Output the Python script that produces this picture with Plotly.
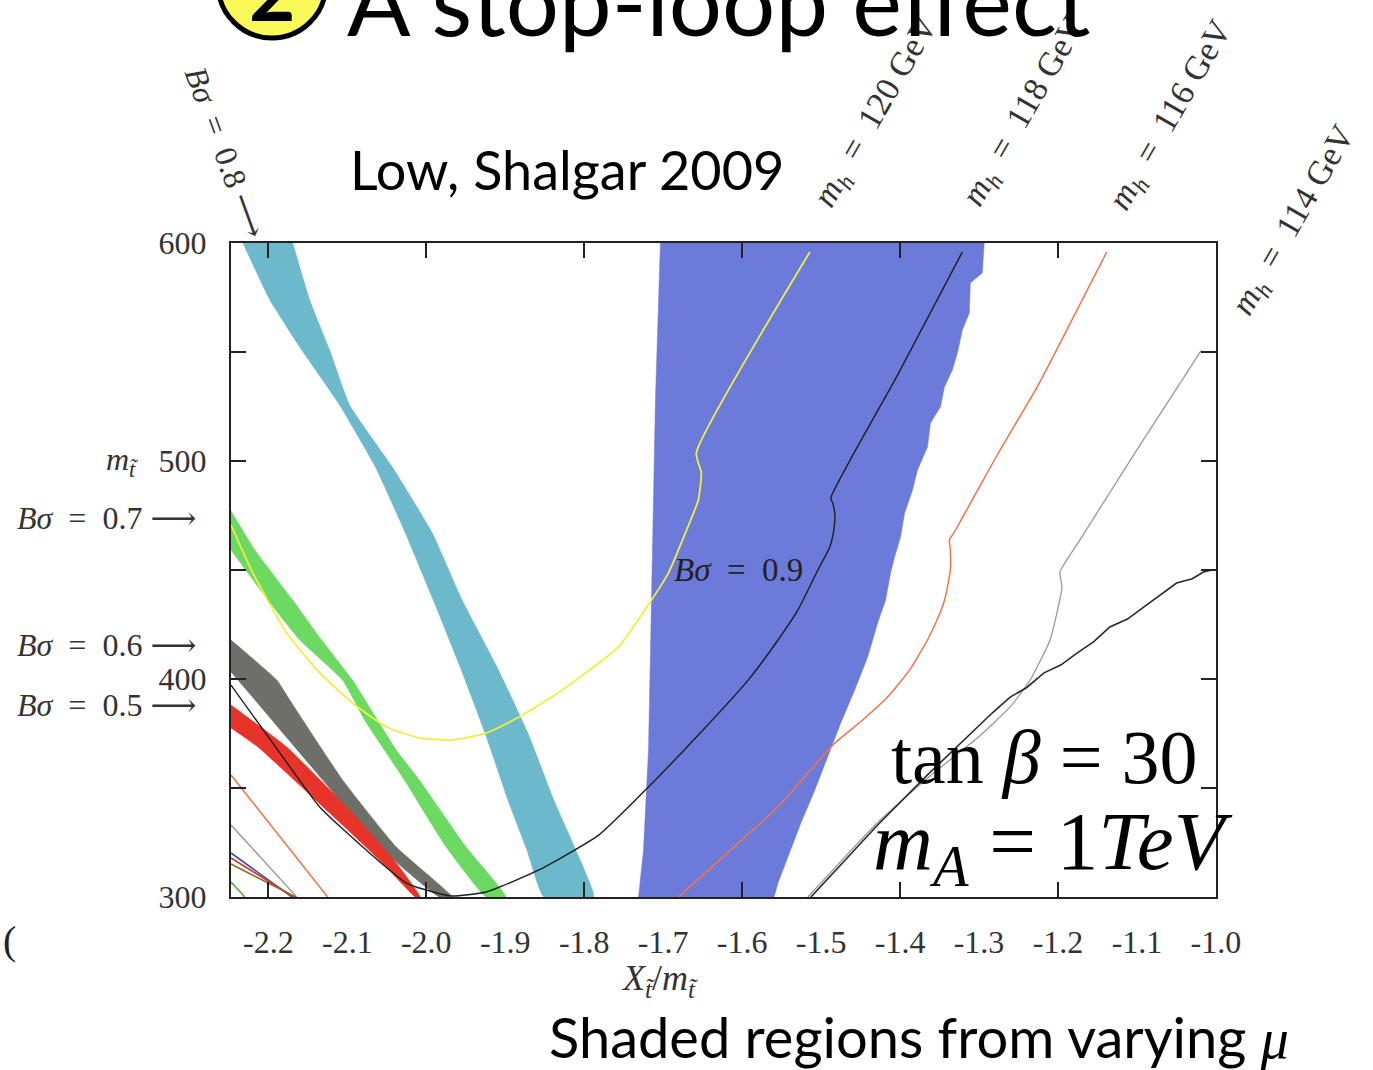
import plotly.graph_objects as go

# ---------------- axis ticks ----------------
x_label_vals = [-2.2, -2.1, -2.0, -1.9, -1.8, -1.7, -1.6, -1.5, -1.4, -1.3, -1.2, -1.1, -1.0]
x_labels = ["-2.2", "-2.1", "-2.0", "-1.9", "-1.8", "-1.7", "-1.6", "-1.5", "-1.4", "-1.3", "-1.2", "-1.1", "-1.0"]
x_tick_vals = [-2.2, -2.0, -1.8, -1.6, -1.4, -1.2, -1.0]
y_tick_vals = [300, 350, 400, 450, 500, 550, 600]
y_labels = ["300", "", "400", "", "500", "", "600"]

# ---------------- shaded bands (edges of each region) ----------------
# B sigma = 0.8 (cyan)
b08_left_x = [-2.2322, -2.1981, -2.1577, -2.1098, -2.0644, -2.0265, -1.9912, -1.9571, -1.9256, -1.8966, -1.8726, -1.8511]
b08_left_m = [600, 573.9, 550.9, 525.7, 497.2, 467.0, 436.2, 405.5, 375.2, 344.5, 321.6, 300]
b08_right_x = [-2.1691, -2.1477, -2.1224, -2.0971, -2.0429, -1.9924, -1.9546, -1.9104, -1.8713, -1.8385, -1.8107, -1.7880]
b08_right_m = [600, 573.9, 550.9, 525.7, 497.2, 467.0, 436.2, 405.5, 375.2, 344.5, 321.6, 300]

# B sigma = 0.9 (blue)
b09_left_x = [-1.7035, -1.7098, -1.7148, -1.7186, -1.7249, -1.7312]
b09_left_m = [600, 528.0, 436.2, 367.4, 321.6, 300]
b09_right_x = [-1.2934, -1.2959, -1.3110, -1.3123, -1.3211, -1.3274, -1.3338, -1.3438, -1.3489, -1.3615,
               -1.3653, -1.3779, -1.3842, -1.3943, -1.3994, -1.4069, -1.4120, -1.4183, -1.4284, -1.4410,
               -1.4574, -1.4751, -1.4915, -1.5079, -1.5256, -1.5420, -1.5546, -1.5596]
b09_right_m = [600, 586.2, 581.7, 567.9, 560.1, 549.5, 541.7, 533.9, 524.8, 517.4,
               506.4, 495.9, 486.7, 476.1, 465.1, 456.0, 448.6, 436.2, 425.7, 410.1,
               395.0, 379.8, 364.2, 349.1, 333.9, 318.3, 306.4, 300]

# B sigma = 0.7 (green)
b07_upper_x = [-2.2473, -2.2170, -2.1691, -2.1325, -2.0934, -2.0618, -2.0379, -2.0088, -1.9495, -1.8991]
b07_upper_m = [477.1, 459.2, 436.2, 417.9, 399.5, 381.2, 367.4, 353.7, 322.9, 300]
b07_lower_x = [-2.2473, -2.2006, -2.1603, -2.1060, -2.0782, -2.0530, -2.0278, -1.9748, -1.9243]
b07_lower_m = [459.2, 436.2, 417.9, 399.5, 381.2, 367.4, 353.7, 322.9, 300]

# B sigma = 0.6 (dark grey)
b06_upper_x = [-2.2473, -2.1893, -2.1729, -2.1060, -2.0379, -1.9672]
b06_upper_m = [417.9, 399.5, 390.4, 353.7, 322.9, 300]
b06_lower_x = [-2.2473, -2.2170, -2.1312, -2.0593, -1.9836]
b06_lower_m = [403.2, 390.4, 353.7, 322.9, 300]

# B sigma = 0.5 (red)
b05_upper_x = [-2.2473, -2.1767, -2.0934, -2.0379, -2.0076]
b05_upper_m = [388.1, 368.8, 338.5, 315.6, 300]
b05_lower_x = [-2.2473, -2.2132, -2.1224, -2.0555, -2.0139]
b05_lower_m = [377.5, 368.8, 338.5, 315.6, 300]

# ---------------- m_h contours ----------------
mh120_x = [-2.2473, -2.2196, -2.1767, -2.1350, -2.0934, -2.0505, -2.0088, -1.9672, -1.9243, -1.8826,
           -1.8410, -1.7981, -1.7565, -1.7148, -1.6934, -1.6719, -1.6555, -1.6517, -1.6580, -1.5142]
mh120_m = [470.6, 448.6, 421.1, 402.8, 389.0, 378.0, 373.0, 372.0, 375.2, 382.6,
           391.7, 402.8, 414.7, 436.2, 448.6, 467.0, 482.1, 494.5, 503.7, 595.9]

mh118_x = [-2.2473, -2.1855, -2.1350, -2.0719, -2.0252, -2.0000, -1.9685, -1.9243, -1.8574, -1.7817,
           -1.7186, -1.6555, -1.5924, -1.5546, -1.5293, -1.5041, -1.4890, -1.4839, -1.4826, -1.4852,
           -1.4877, -1.4032, -1.3211]
mh118_m = [397.2, 366.1, 341.3, 320.2, 306.4, 303.2, 300.5, 302.3, 312.4, 328.4,
           350.5, 374.3, 399.5, 417.9, 431.7, 450.0, 460.6, 468.3, 475.2, 480.7,
           483.0, 539.4, 595.9]

mh116_x = [-1.6808, -1.6177, -1.5546, -1.4852, -1.4473, -1.4158, -1.3880, -1.3653, -1.3489, -1.3426,
           -1.3363, -1.3363, -1.3375, -1.3312, -1.2770, -1.2265, -1.1823, -1.1382]
mh116_m = [300, 320.6, 341.3, 369.7, 381.2, 391.7, 404.1, 417.9, 430.7, 437.6,
           450.0, 459.2, 463.8, 467.4, 502.75, 533.9, 564.7, 595.9]

mh114_x = [-1.5167, -1.4284, -1.3653, -1.3022, -1.2606, -1.2353, -1.2101, -1.1950, -1.1975, -1.1722, -1.1003, -1.0183]
mh114_m = [300, 334.2, 354.6, 372.9, 387.2, 399.5, 417.9, 442.2, 449.1, 463.8, 505.0, 550.9]

edge_x = [-1.5129, -1.4284, -1.3653, -1.3022, -1.2830, -1.2606, -1.2400, -1.2177, -1.1960, -1.1760,
          -1.1550, -1.1344, -1.1120, -1.0915, -1.0700, -1.0498, -1.0300, -1.0158, -1.0050]
edge_m = [300, 333.0, 356.0, 378.0, 384.5, 391.7, 396.0, 402.8, 406.5, 411.9,
          417.0, 423.9, 427.5, 433.0, 438.5, 444.0, 446.0, 449.1, 450.0]

# thin contours crowding the lower-left corner
corner_orange_x = [-2.2473, -2.1867, -2.1249]
corner_orange_m = [356.0, 328.0, 300]
corner_grey_x = [-2.2473, -2.1640]
corner_grey_m = [333.0, 300]
corner_bundle = [
    ("#3a46c8", [-2.2473, -2.1703], [320.2, 300]),
    ("#d2392f", [-2.2473, -2.1678], [317.9, 300]),
    ("#8a6a2a", [-2.2473, -2.1653], [315.1, 300]),
    ("#5aa84a", [-2.2473, -2.2297], [306.9, 300]),
]


def band(xa, ma, xb, mb):
    return xa + xb[::-1], ma + mb[::-1]


fig = go.Figure()

bands = [
    (b08_left_x, b08_left_m, b08_right_x, b08_right_m, "#6cb9cc", "spline"),
    (b09_left_x, b09_left_m, b09_right_x, b09_right_m, "#6c7bd9", "linear"),
    (b07_upper_x, b07_upper_m, b07_lower_x, b07_lower_m, "#6bd962", "spline"),
    (b06_upper_x, b06_upper_m, b06_lower_x, b06_lower_m, "#6e6f69", "spline"),
    (b05_upper_x, b05_upper_m, b05_lower_x, b05_lower_m, "#e8332a", "spline"),
]
for xa, ma, xb, mb, col, shp in bands:
    bx, by = band(xa, ma, xb, mb)
    ln = dict(width=0.5, color=col, shape=shp)
    if shp == "spline":
        ln["smoothing"] = 0.4
    fig.add_trace(go.Scatter(x=bx, y=by, fill="toself", fillcolor=col, mode="lines",
                             line=ln, showlegend=False, hoverinfo="skip"))

lines = [
    (corner_orange_x, corner_orange_m, "#f7714a", 1.5, "linear"),
    (corner_grey_x, corner_grey_m, "#a0a0a0", 1.5, "linear"),
    (mh120_x, mh120_m, "#f2ee3c", 1.8, "spline"),
    (mh118_x, mh118_m, "#1e1e1e", 1.4, "spline"),
    (mh116_x, mh116_m, "#f7714a", 1.5, "spline"),
    (mh114_x, mh114_m, "#9a9a9a", 1.3, "spline"),
    (edge_x, edge_m, "#2a2a2a", 1.6, "linear"),
]
for col, lx, lm in corner_bundle:
    lines.append((lx, lm, col, 1.6, "linear"))
for lx, lm, col, w, shp in lines:
    ln = dict(color=col, width=w, shape=shp)
    if shp == "spline":
        ln["smoothing"] = 0.5
    fig.add_trace(go.Scatter(x=lx, y=lm, mode="lines", line=ln,
                             showlegend=False, hoverinfo="skip"))

# companion axis carrying only the tick marks
fig.add_trace(go.Scatter(x=[None], y=[None], xaxis="x2", yaxis="y", showlegend=False, hoverinfo="skip"))

serif = "Liberation Serif, DejaVu Serif, serif"
comic = "Comic Sans MS, Lato, sans-serif"
SP = "\u2002"

fig.update_layout(
    width=1373, height=1070,
    margin=dict(l=231, r=157, t=243, b=173),
    paper_bgcolor="white", plot_bgcolor="white",
    xaxis=dict(range=[-2.2473, -0.9999], tickvals=x_label_vals, ticktext=x_labels, ticks="",
               showline=True, linecolor="#222", linewidth=2, mirror=True,
               showgrid=False, zeroline=False, ticklabelstandoff=16,
               tickfont=dict(family=serif, size=32, color="#333")),
    xaxis2=dict(overlaying="x", matches="x", anchor="y", side="bottom",
                tickvals=x_tick_vals, ticks="inside", ticklen=15, tickwidth=2, tickcolor="#222",
                showline=True, linecolor="#222", linewidth=2, mirror="ticks",
                showticklabels=False, showgrid=False, zeroline=False),
    yaxis=dict(range=[300, 600], tickvals=y_tick_vals, ticktext=y_labels,
               ticks="inside", ticklen=15, tickwidth=2, tickcolor="#222",
               showline=True, linecolor="#222", linewidth=2, mirror="ticks",
               showgrid=False, zeroline=False, ticklabelstandoff=16,
               tickfont=dict(family=serif, size=32, color="#333")),
)


def note(x, y, text, size, family=serif, color="#333", xref="paper", yref="paper",
         xanchor="center", yanchor="middle", angle=0):
    return dict(xref=xref, yref=yref, x=x, y=y, text=text, showarrow=False,
                xanchor=xanchor, yanchor=yanchor, textangle=angle,
                font=dict(family=family, size=size, color=color))


ann = []
# band labels on the left
ann.append(note(-0.092, 500, "<i>m</i><sub><i>t̃</i></sub>", 32, yref="y", xanchor="right"))
for lbl, yy in [("0.7", 473.9), ("0.6", 415.6), ("0.5", 388.1)]:
    ann.append(note(-0.034, yy, "<i>Bσ</i>" + SP + "=" + SP + lbl + " ⟶", 32, yref="y", xanchor="right"))
ann.append(note(-0.006, 1.139, "<i>Bσ</i>" + SP + "=" + SP + "0.8 ⟶", 32, angle=70))
ann.append(note(-1.605, 450.0, "<i>Bσ</i>" + SP + "=" + SP + "0.9", 33, color="#222", xref="x", yref="y"))
# m_h labels above the frame
for lbl, px, py in [("120", 0.6558, 1.2003), ("118", 0.8061, 1.2003), ("116", 0.9553, 1.1957), ("114", 1.0802, 1.0352)]:
    ann.append(note(px, py, "<i>m<sub>h</sub></i>" + SP + "=" + SP + lbl + " GeV", 34, angle=-60))
# parameters
ann.append(note(0.9838, 0.214, "tan <i>β</i> = 30", 76, color="black", xanchor="right"))
ann.append(note(1.0193, 0.077, "<i>m</i><sub><i>A</i></sub> = 1<i>TeV</i>", 83, color="black", xanchor="right"))
# axis title
ann.append(note(0.4355, -0.128, "<i>X</i><sub><i>t̃</i></sub>/<i>m</i><sub><i>t̃</i></sub>", 36))
# slide texts
ann.append(note(0.3411, 1.112, "Low, Shalgar 2009", 54, family=comic, color="black"))
ann.append(note(0.4955, 1.3716, "A stop-loop effect", 94, family=comic, color="black"))
ann.append(note(0.0416, 1.387, "<b>2</b>", 80, family=comic, color="black"))
ann.append(note(0.6985, -0.214,
                "Shaded regions from varying <i><span style='font-family:Liberation Serif'>μ</span></i>",
                56, family="Lato, Open Sans, sans-serif", color="black"))
ann.append(note(-0.234, -0.066, "(", 40, color="#222", xanchor="left"))
fig.update_layout(annotations=ann)

fig.add_shape(type="circle", xref="paper", yref="paper", x0=-0.0132, x1=0.0964, y0=1.3135, y1=1.479,
              fillcolor="#fafa5a", line=dict(color="black", width=5), layer="below")

fig.write_html("out.html")
